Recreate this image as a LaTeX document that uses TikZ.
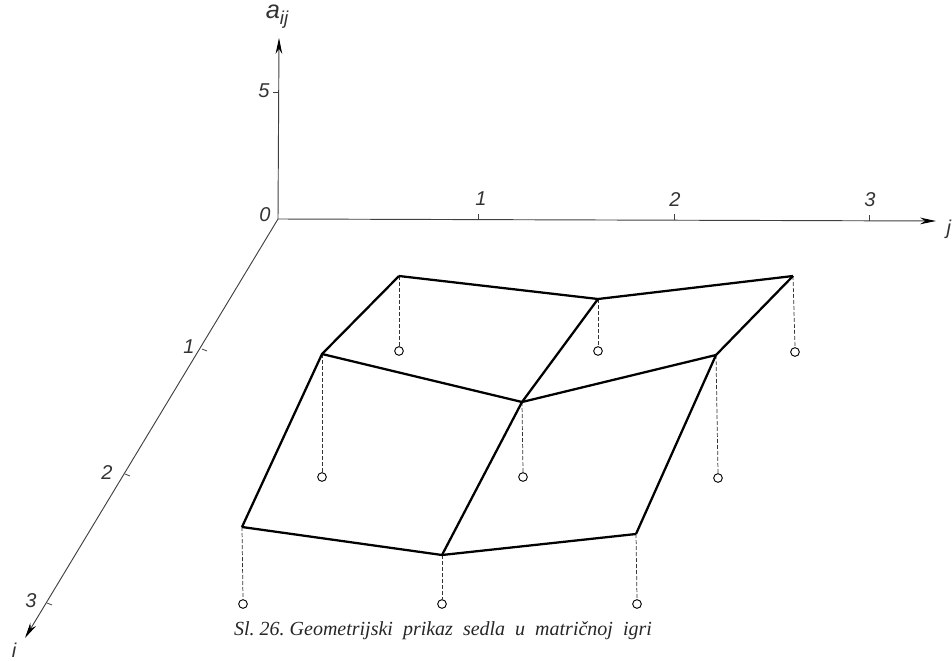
\documentclass[tikz,border=0pt]{standalone}
\usepackage{fontspec}
\newfontfamily\axfont{Liberation Sans}
\newfontfamily\capfont{Liberation Serif}
\usetikzlibrary{arrows.meta}
\begin{document}
\begin{tikzpicture}[x=0.75pt,y=-0.75pt,
  axis/.style={line width=0.7pt,draw=black!75},
  axarrow/.style={axis,-{Stealth[length=12pt,width=5pt,color=black]}},
  tick/.style={line width=0.6pt,draw=black!75},
  lbl/.style={font=\axfont\itshape\fontsize{15}{17}\selectfont,text=black!80,inner sep=1pt},
  surf/.style={line width=1.7pt,line join=round},
  drop/.style={line width=0.55pt,dash pattern=on 3pt off 1.5pt,draw=black!80},
  peg/.style={circle,draw,line width=0.7pt,minimum size=6.5pt,inner sep=0pt,fill=white}]
\useasboundingbox (0,0) rectangle (952,660);
% axes
\coordinate (O) at (278,219);
\coordinate (Az) at (279,38);
\coordinate (Aj) at (936,221);
\coordinate (Ai) at (25,638);
\draw[axarrow] (O) -- (Az);
\draw[axarrow] (O) -- (Aj);
\draw[axarrow] (O) -- (Ai);
% ticks
\draw[tick] (273,92) -- (279,92);
\draw[tick] (478,220) -- (478,214);
\draw[tick] (674,220) -- (674,214);
\draw[tick] (869,221) -- (869,215);
\draw[tick] (202,349) -- (207,351);
\draw[tick] (125,474) -- (130,476);
\draw[tick] (47,603) -- (52,605);
% labels
\node[lbl] (la) at (277,17) {\fontsize{19}{19}\selectfont a\raisebox{-0.45ex}{\fontsize{14}{14}\selectfont ij}};
\node[lbl] (l5) at (264,91) {5};
\node[lbl] (l0) at (265,215) {0};
\node[lbl] (lj1) at (481,199) {1};
\node[lbl] (lj2) at (675,200) {2};
\node[lbl] (lj3) at (870,200) {3};
\node[lbl,anchor=east,inner sep=0.5pt] (lj) at (952,229) {j};
\node[lbl] (li1) at (189,347) {1};
\node[lbl] (li2) at (107,473) {2};
\node[lbl] (li3) at (31,601) {3};
\node[lbl] (li) at (14,650) {i};
% surface points
\coordinate (p11) at (399,276);
\coordinate (p12) at (598,299);
\coordinate (p13) at (793,276);
\coordinate (p21) at (322,354);
\coordinate (p22) at (522,402);
\coordinate (p23) at (716,355);
\coordinate (p31) at (242,527);
\coordinate (p32) at (442,555);
\coordinate (p33) at (636,534);
% base pegs
\node[peg] (b11) at (399,351) {};
\node[peg] (b12) at (598,351) {};
\node[peg] (b13) at (795,352) {};
\node[peg] (b21) at (322,477) {};
\node[peg] (b22) at (523,477) {};
\node[peg] (b23) at (718,478) {};
\node[peg] (b31) at (243,604) {};
\node[peg] (b32) at (442,604) {};
\node[peg] (b33) at (637,604) {};
% drop lines
\foreach \a in {11,12,13,21,22,23,31,32,33}{
  \draw[drop] (p\a) -- (b\a.north);
}
% surface
\draw[surf] (p11) -- (p12) -- (p13);
\draw[surf] (p21) -- (p22) -- (p23);
\draw[surf] (p31) -- (p32) -- (p33);
\draw[surf] (p11) -- (p21) -- (p31);
\draw[surf] (p12) -- (p22) -- (p32);
\draw[surf] (p13) -- (p23) -- (p33);
% caption
\node[font=\capfont\itshape\fontsize{15}{17}\selectfont,inner sep=0pt,text=black!85] (cap) at (443,631) {Sl.\ 26.\ Geometrijski\ \ prikaz\ \ sedla\ \ u\ \ matričnoj\ \ igri};
\end{tikzpicture}
\end{document}
